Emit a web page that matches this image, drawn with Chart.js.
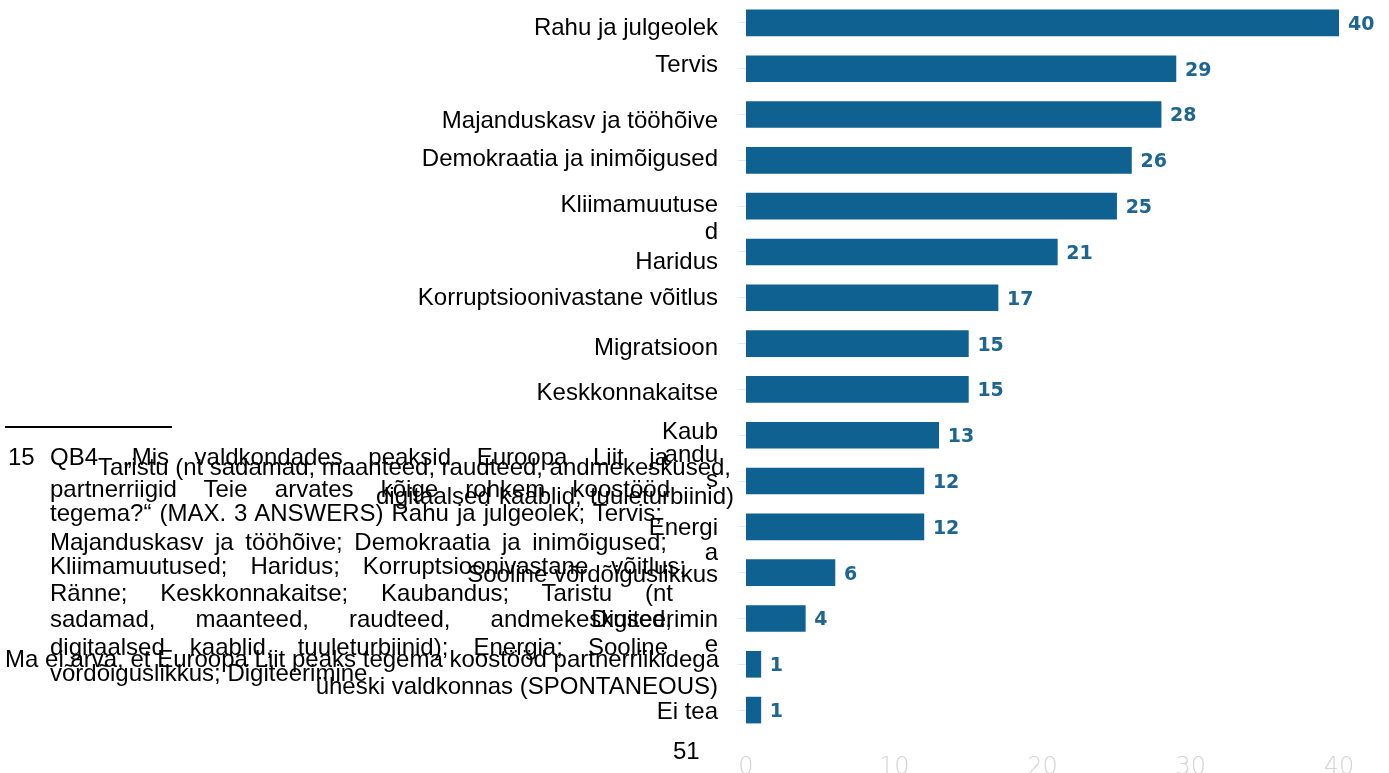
<!DOCTYPE html>
<html>
<head>
<meta charset="utf-8">
<script src="https://cdn.jsdelivr.net/npm/chart.js@4"></script>
<style>
  body { margin: 0; background: #fff; }
  #wrap { position: relative; width: 1389px; height: 773px; overflow: hidden; }
  #c { position: absolute; left: 0; top: 0; }
  .t { position: absolute; white-space: nowrap; font-family: "Liberation Sans", Arial, sans-serif;
       font-size: 24px; line-height: 24px; color: #000; }
</style>
</head>
<body>
<div id="wrap">
  <canvas id="c" width="1389" height="773"></canvas>
  <div id="txt"></div>
</div>
<script>
// dati del grafico
var categorie = [
  'Rahu ja julgeolek', 'Tervis', 'Majanduskasv ja tööhõive', 'Demokraatia ja inimõigused',
  'Kliimamuutused', 'Haridus', 'Korruptsioonivastane võitlus', 'Migratsioon',
  'Keskkonnakaitse', 'Kaubandus', 'Taristu (nt sadamad, maanteed, raudteed, andmekeskused, digitaalsed kaablid, tuuleturbiinid)',
  'Energia', 'Sooline võrdõiguslikkus', 'Digiteerimine',
  'Ma ei arva, et Euroopa Liit peaks tegema koostööd partnerriikidega üheski valdkonnas (SPONTANEOUS)', 'Ei tea'
];
var valori = [40, 29, 28, 26, 25, 21, 17, 15, 15, 13, 12, 12, 6, 4, 1, 1];
var tickX = [0, 10, 20, 30, 40];

// testi a sinistra (come nel pdf, spezzati)
var etichette = [
  ['Rahu ja julgeolek', 27], ['Tervis', 64], ['Majanduskasv ja tööhõive', 120],
  ['Demokraatia ja inimõigused', 158], ['Kliimamuutuse', 204], ['d', 231], ['Haridus', 261],
  ['Korruptsioonivastane võitlus', 297], ['Migratsioon', 347], ['Keskkonnakaitse', 392],
  ['Kaub', 431], ['andu', 454], ['s', 479], ['Energi', 527], ['a', 552],
  ['Sooline võrdõiguslikkus', 574], ['Digiteerimin', 619], ['e', 644],
  ['üheski valdkonnas (SPONTANEOUS)', 686], ['Ei tea', 711]
];
var righeLibere = [
  ['Taristu (nt sadamad, maanteed, raudteed, andmekeskused,', 98, 731, 467],
  ['digitaalsed kaablid, tuuleturbiinid)', 376, 734, 496],
  ['Ma ei arva, et Euroopa Liit peaks tegema koostööd partnerriikidega', 5, 719, 659]
];
var notaRighe = [
  ['QB4 „Mis valdkondades peaksid Euroopa Liit ja', 668, 457],
  ['partnerriigid Teie arvates kõige rohkem koostööd', 670, 489],
  ['tegema?“ (MAX. 3 ANSWERS) Rahu ja julgeolek; Tervis;', 662, 513],
  ['Majanduskasv ja tööhõive; Demokraatia ja inimõigused;', 667, 542],
  ['Kliimamuutused; Haridus; Korruptsioonivastane võitlus;', 686, 566],
  ['Ränne; Keskkonnakaitse; Kaubandus; Taristu (nt', 673, 593],
  ['sadamad, maanteed, raudteed, andmekeskused,', 672, 619],
  ['digitaalsed kaablid, tuuleturbiinid); Energia; Sooline', 668, 647],
  ['võrdõiguslikkus; Digiteerimine', 0, 673]
];

var box = document.getElementById('txt');
function aggiungi(testo, css) {
  var d = document.createElement('div');
  d.className = 't';
  d.textContent = testo;
  for (var k in css) d.style[k] = css[k];
  box.appendChild(d);
  return d;
}
// allarga le parole fino alla larghezza voluta
function giustifica(d, larghezza) {
  var spazi = (d.textContent.match(/ /g) || []).length;
  var w = d.getBoundingClientRect().width;
  if (spazi > 0) d.style.wordSpacing = ((larghezza - w) / spazi) + 'px';
}

etichette.forEach(function(e) {
  aggiungi(e[0], { right: (1389 - 718) + 'px', top: (e[1] - 12) + 'px' });
});
righeLibere.forEach(function(r) {
  var d = aggiungi(r[0], { left: r[1] + 'px', top: (r[3] - 12) + 'px' });
  giustifica(d, r[2] - r[1]);
});
aggiungi('15', { left: '8px', top: '445px' });
notaRighe.forEach(function(r) {
  var d = aggiungi(r[0], { left: '50px', top: (r[2] - 12) + 'px' });
  if (r[1]) giustifica(d, r[1] - 50);
});
aggiungi('51', { left: '673px', top: '739px' });
var linea = document.createElement('div');
linea.style.cssText = 'position:absolute;left:5px;top:426px;width:167px;height:2px;background:#000;';
box.appendChild(linea);

// numeri alla fine delle barre
var valoriPlugin = {
  id: 'valori',
  afterDatasetsDraw: function(chart) {
    var ctx = chart.ctx;
    var meta = chart.getDatasetMeta(0);
    ctx.save();
    ctx.font = 'bold 19px "DejaVu Sans"';
    ctx.fillStyle = '#1d6592';
    ctx.textBaseline = 'middle';
    meta.data.forEach(function(bar, i) {
      ctx.fillText(valori[i], bar.x + 9, bar.y + 2);
    });
    ctx.restore();
  }
};

var chart = new Chart(document.getElementById('c'), {
  type: 'bar',
  data: {
    labels: categorie,
    datasets: [{
      data: valori,
      backgroundColor: '#0f6191',
      barThickness: 26
    }]
  },
  options: {
    indexAxis: 'y',
    responsive: false,
    animation: false,
    devicePixelRatio: 1,
    layout: { padding: { left: 734, right: 50, top: 0, bottom: 0 } },
    plugins: { legend: { display: false }, tooltip: { enabled: false } },
    scales: {
      x: {
        min: 0, max: 40,
        afterBuildTicks: function(s) { s.ticks = tickX.map(function(v) { return { value: v }; }); },
        afterFit: function(s) { s.height = 40; },
        grid: { display: false },
        border: { display: false },
        ticks: { color: '#d4d4d4', padding: 12, font: { family: 'DejaVu Sans', size: 24, weight: 200 } }
      },
      y: {
        afterFit: function(s) { s.width = 12; },
        grid: { offset: false, drawOnChartArea: false, tickLength: 8, color: '#e8e8e8' },
        border: { display: false },
        ticks: { display: false }
      }
    }
  },
  plugins: [valoriPlugin]
});
</script>
</body>
</html>
